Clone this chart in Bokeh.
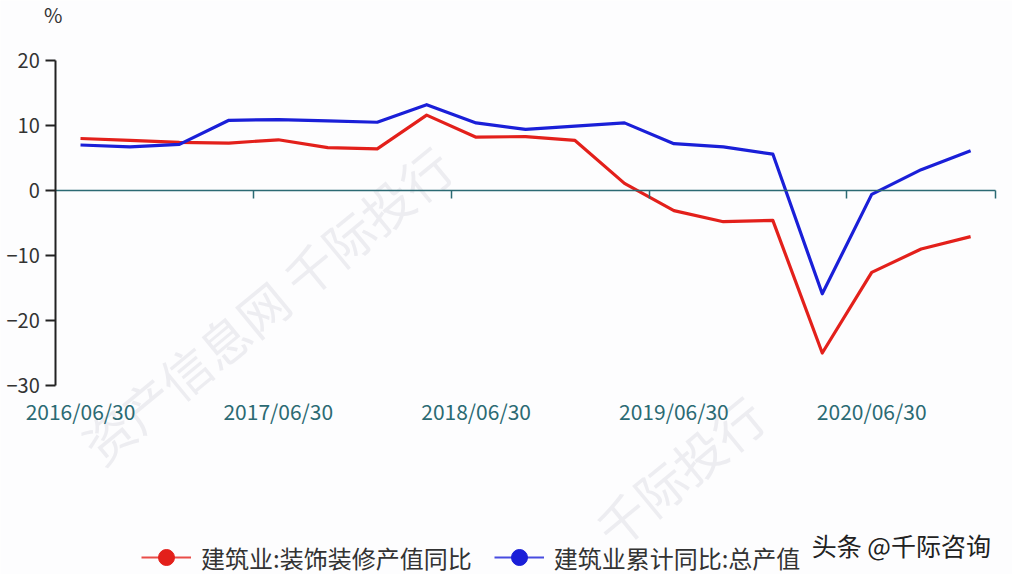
from bokeh.plotting import figure
from bokeh.models import (Range1d, FixedTicker, Legend, LegendItem, Label, LinearAxis)
from bokeh.embed import file_html
from bokeh.resources import INLINE

# ---------------- data ----------------
dates = ["2016/06/30", "2016/09/30", "2016/12/31", "2017/03/31",
         "2017/06/30", "2017/09/30", "2017/12/31", "2018/03/31",
         "2018/06/30", "2018/09/30", "2018/12/31", "2019/03/31",
         "2019/06/30", "2019/09/30", "2019/12/31", "2020/03/31",
         "2020/06/30", "2020/09/30", "2020/12/31"]
decoration_yoy = [8.0, 7.7, 7.4, 7.3, 7.8, 6.6, 6.4, 11.6, 8.2, 8.3,
                  7.7, 1.1, -3.1, -4.8, -4.6, -25.0, -12.6, -9.0, -7.1]
total_output_yoy = [7.0, 6.7, 7.1, 10.8, 10.9, 10.7, 10.5, 13.2, 10.4, 9.4,
                    9.9, 10.4, 7.2, 6.7, 5.6, -15.9, -0.6, 3.2, 6.1]
series_names = ["建筑业:装饰装修产值同比", "建筑业累计同比:总产值"]
y_ticks = [-30, -20, -10, 0, 10, 20]
label_every = 4

# ---------------- style ----------------
RED = "#E3201B"
BLUE = "#1A1FD8"
TEAL = "#2B6A73"
TXT = "#333333"
BG = "#FDFDFE"
FONT = "Noto Sans CJK SC"
NAN = float("nan")

n = len(dates)
idx = list(range(n))
y_lo, y_hi = y_ticks[0], y_ticks[-1]

# the frame fills the whole canvas; axes are pinned at data locations
p = figure(width=1012, height=574, output_backend="svg", toolbar_location=None,
           x_range=Range1d(-1.618, 18.847), y_range=Range1d(-59.08, 29.23),
           min_border=0, x_axis_type=None, y_axis_type=None)
p.background_fill_color = BG
p.border_fill_color = BG
p.outline_line_color = None
p.grid.visible = False

# faint watermarks (drawn first, behind everything)
wm = dict(text_font=FONT, text_font_size="50px", text_color="#EDEDF1",
          text_align="center", text_baseline="middle", angle=0.69)
p.add_layout(Label(x=3.84, y=-16.9, text="资产信息网  千际投行", level="underlay", **wm))
p.add_layout(Label(x=12.1, y=-43.1, text="千际投行", level="underlay", **wm))

# y axis at the left category boundary
ya = LinearAxis(fixed_location=-0.5, bounds=(y_lo, y_hi),
                ticker=FixedTicker(ticks=y_ticks))
ya.axis_line_color = "#222222"
ya.axis_line_width = 2
ya.major_tick_line_color = "#222222"
ya.major_tick_line_width = 2
ya.major_tick_out = 10
ya.major_tick_in = 0
ya.minor_tick_line_color = None
ya.major_label_standoff = 6
ya.major_label_text_font = FONT
ya.major_label_text_font_size = "20px"
ya.major_label_text_color = TXT
p.add_layout(ya, "left")

# category labels under the bottom of the value range
label_pos = idx[::label_every]
xl = LinearAxis(fixed_location=y_lo, ticker=FixedTicker(ticks=label_pos))
xl.major_label_overrides = {i: dates[i] for i in label_pos}
xl.axis_line_color = None
xl.major_tick_line_color = None
xl.minor_tick_line_color = None
xl.major_label_standoff = 5
xl.major_label_text_font = FONT
xl.major_label_text_font_size = "21px"
xl.major_label_text_color = TEAL
p.add_layout(xl, "below")

# category axis line at zero, ticks on category boundaries
bounds = [i + 0.5 for i in range(label_every - 1, n - 1, label_every)] + [n - 0.5]
x0 = LinearAxis(fixed_location=0, bounds=(-0.5, n - 0.5),
                ticker=FixedTicker(ticks=bounds))
x0.axis_line_color = TEAL
x0.axis_line_width = 1.5
x0.major_tick_line_color = TEAL
x0.major_tick_line_width = 1.5
x0.major_tick_out = 8
x0.major_tick_in = 0
x0.minor_tick_line_color = None
x0.major_label_text_alpha = 0
x0.major_label_text_font_size = "1px"
p.add_layout(x0, "below")

# series
r_red = p.line(idx, decoration_yoy, line_color=RED, line_width=3.2, line_join="round")
r_blue = p.line(idx, total_output_yoy, line_color=BLUE, line_width=3.2, line_join="round")

# legend-only glyphs (NaN data: nothing drawn in the plot area)
lr_line = p.line([NAN, NAN], [NAN, NAN], line_color=RED, line_width=2, line_alpha=0.8)
lr_dot = p.scatter([NAN], [NAN], marker="circle", fill_color=RED, line_color=RED)
lb_line = p.line([NAN, NAN], [NAN, NAN], line_color=BLUE, line_width=2, line_alpha=0.8)
lb_dot = p.scatter([NAN], [NAN], marker="circle", fill_color=BLUE, line_color=BLUE)

legend = Legend(items=[LegendItem(label=series_names[0], renderers=[lr_line, lr_dot]),
                       LegendItem(label=series_names[1], renderers=[lb_line, lb_dot])],
                location=(141, -3), orientation="horizontal",
                glyph_width=50, glyph_height=40, label_standoff=10, spacing=22,
                padding=0, margin=0, border_line_alpha=0, background_fill_alpha=0,
                label_text_font=FONT, label_text_font_size="24px",
                label_text_color=TXT)
p.add_layout(legend, "center")

# unit label
p.add_layout(Label(x=-0.55, y=27, text="%", text_align="center", text_baseline="middle",
                   text_font=FONT, text_font_size="20px", text_color=TXT))

# source mark
p.add_layout(Label(x=16.6, y=-54.6, text="头条 @千际咨询", text_align="center",
                   text_baseline="middle", text_font=FONT, text_font_size="25px",
                   text_color="#222222"))

open("out.html", "w").write(file_html(p, INLINE))
